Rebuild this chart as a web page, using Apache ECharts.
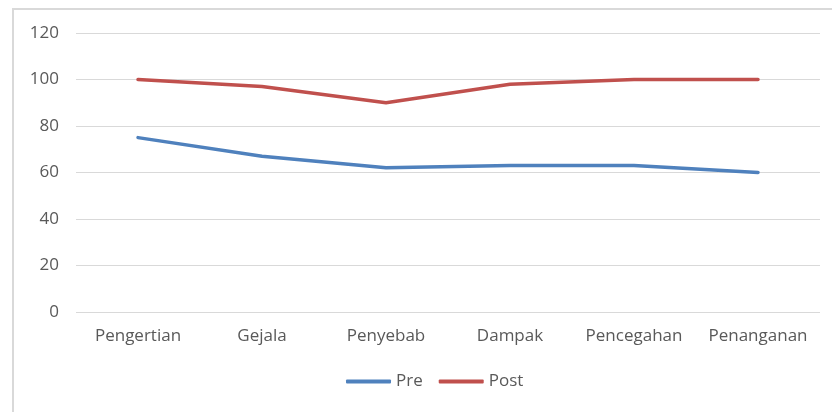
<!DOCTYPE html>
<html><head><meta charset="utf-8">
<script src="https://cdn.jsdelivr.net/npm/echarts@6/dist/echarts.min.js"></script>
<style>html,body{margin:0;padding:0;background:#fff}#c{width:832px;height:412px}
#frame{position:absolute;left:12px;top:8px;width:830px;height:410px;border:2px solid #d9d9d9;box-sizing:border-box;pointer-events:none}</style>
</head><body><div id="c"></div><div id="frame"></div>
<script>
const categories = ['Pengertian','Gejala','Penyebab','Dampak','Pencegahan','Penanganan'];
const preValues = [75, 67, 62, 63, 63, 60];
const postValues = [100, 97, 90, 98, 100, 100];
const yTicks = {min: 0, max: 120, interval: 20};

const font = 'Open Sans';
const chart = echarts.init(document.getElementById('c'));
chart.setOption({
  animation: false,
  textStyle: {fontFamily: font},
  grid: {left: 76, right: 12, top: 33, bottom: 100, containLabel: false},
  legend: {
    data: ['Pre','Post'], bottom: 17, left: 341, itemWidth: 45, itemHeight: 4, itemGap: 16,
    icon: 'roundRect',
    textStyle: {color: '#595959', fontSize: 17, fontFamily: font}
  },
  xAxis: {
    type: 'category', data: categories, boundaryGap: true,
    axisLine: {show: false}, axisTick: {show: false},
    axisLabel: {color: '#595959', fontSize: 17, margin: 16, fontFamily: font, interval: 0, hideOverlap: false}
  },
  yAxis: {
    type: 'value', min: yTicks.min, max: yTicks.max, interval: yTicks.interval,
    axisLine: {show: false}, axisTick: {show: false},
    axisLabel: {color: '#595959', fontSize: 17, margin: 17, fontFamily: font},
    splitLine: {lineStyle: {color: '#d9d9d9', width: 1}}
  },
  series: [
    {name: 'Pre', type: 'line', data: preValues, symbol: 'none', lineStyle: {color: '#4F81BD', width: 3.5, cap: 'round'}, itemStyle: {color: '#4F81BD'}},
    {name: 'Post', type: 'line', data: postValues, symbol: 'none', lineStyle: {color: '#C0504D', width: 3.5, cap: 'round'}, itemStyle: {color: '#C0504D'}}
  ]
});
</script></body></html>
